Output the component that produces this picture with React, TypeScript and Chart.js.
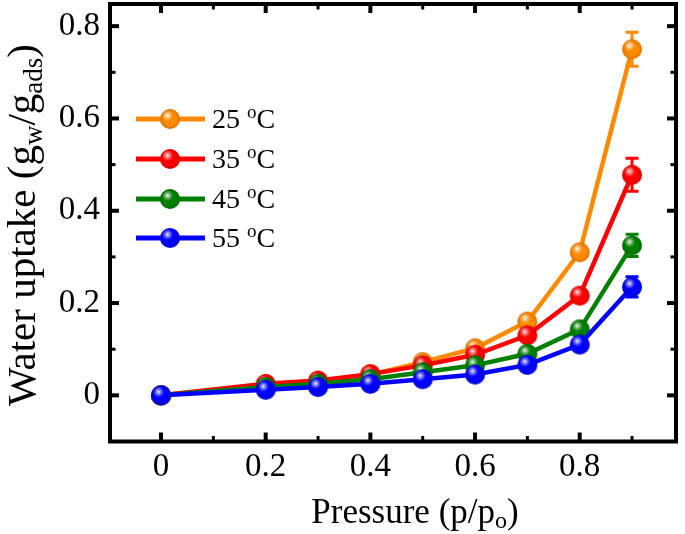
import React, { useEffect, useRef } from "react";
import { Chart, registerables } from "chart.js";

Chart.register(...registerables);

// ---- data ----
const pressure = [0, 0.2, 0.3, 0.4, 0.5, 0.6, 0.7, 0.8, 0.9];
const uptake25 = [0, 0.022, 0.03, 0.045, 0.072, 0.102, 0.16, 0.31, 0.75];
const uptake35 = [0, 0.025, 0.032, 0.046, 0.065, 0.088, 0.13, 0.216, 0.478];
const uptake45 = [0, 0.018, 0.025, 0.035, 0.05, 0.065, 0.09, 0.143, 0.325];
const uptake55 = [0, 0.012, 0.018, 0.025, 0.035, 0.045, 0.066, 0.11, 0.235];
const error25 = [0.002, 0.003, 0.003, 0.004, 0.005, 0.006, 0.008, 0.01, 0.037];
const error35 = [0.002, 0.003, 0.003, 0.004, 0.005, 0.006, 0.008, 0.01, 0.036];
const error45 = [0.002, 0.003, 0.003, 0.004, 0.004, 0.005, 0.006, 0.008, 0.024];
const error55 = [0.002, 0.002, 0.003, 0.003, 0.004, 0.005, 0.006, 0.008, 0.022];
const seriesNames = ["25", "35", "45", "55"];
const seriesColors = ["#FF8A00", "#FF0000", "#008000", "#0000FF"];

const xTickValues = [0, 0.2, 0.4, 0.6, 0.8];
const xTickLabels = ["0", "0.2", "0.4", "0.6", "0.8"];
const xMinorTicks = [0.1, 0.3, 0.5, 0.7, 0.9];
const yTickValues = [0, 0.2, 0.4, 0.6, 0.8];
const yTickLabels = ["0", "0.2", "0.4", "0.6", "0.8"];
const yMinorTicks = [0.1, 0.3, 0.5, 0.7];

const X_MIN = -0.0975;
const X_MAX = 0.984;
const Y_MIN = -0.1;
const Y_MAX = 0.848;

const FONT = "'Liberation Serif', 'Times New Roman', serif";

function makeSphere(color: string, r: number): HTMLCanvasElement {
  const c = document.createElement("canvas");
  const size = Math.ceil(r * 2 + 2);
  c.width = size;
  c.height = size;
  const ctx = c.getContext("2d")!;
  const cx = size / 2;
  const cy = size / 2;
  ctx.beginPath();
  ctx.arc(cx, cy, r, 0, Math.PI * 2);
  ctx.fillStyle = color;
  ctx.fill();
  const g = ctx.createRadialGradient(cx - r * 0.25, cy - r * 0.35, 0, cx - r * 0.25, cy - r * 0.35, r * 0.55);
  g.addColorStop(0, "rgba(255,255,255,0.95)");
  g.addColorStop(0.45, "rgba(255,255,255,0.45)");
  g.addColorStop(1, "rgba(255,255,255,0)");
  ctx.beginPath();
  ctx.arc(cx, cy, r, 0, Math.PI * 2);
  ctx.fillStyle = g;
  ctx.fill();
  const g2 = ctx.createRadialGradient(cx, cy, r * 0.6, cx, cy, r);
  g2.addColorStop(0, "rgba(0,0,0,0)");
  g2.addColorStop(1, "rgba(0,0,0,0.15)");
  ctx.beginPath();
  ctx.arc(cx, cy, r, 0, Math.PI * 2);
  ctx.fillStyle = g2;
  ctx.fill();
  return c;
}

type Seg = { text: string; size: number; dy: number };

function richWidth(ctx: CanvasRenderingContext2D, segs: Seg[]) {
  let w = 0;
  for (const s of segs) {
    ctx.font = `${s.size}px ${FONT}`;
    w += ctx.measureText(s.text).width;
  }
  return w;
}

function drawRich(ctx: CanvasRenderingContext2D, segs: Seg[], x: number, y: number) {
  let cx = x;
  ctx.textAlign = "left";
  ctx.textBaseline = "alphabetic";
  for (const s of segs) {
    ctx.font = `${s.size}px ${FONT}`;
    ctx.fillText(s.text, cx, y + s.dy);
    cx += ctx.measureText(s.text).width;
  }
}

function labelFor(v: number, vals: number[], labels: string[]) {
  const i = vals.findIndex((t) => Math.abs(t - v) < 1e-9);
  return i >= 0 ? labels[i] : "";
}

export default function App() {
  const ref = useRef<HTMLCanvasElement>(null);

  useEffect(() => {
    if (!ref.current) return;
    const values = [uptake25, uptake35, uptake45, uptake55];
    const errors = [error25, error35, error45, error55];
    const spheres = seriesColors.map((c) => makeSphere(c, 10));

    const datasets = values.map((vals, i) => ({
      label: `${seriesNames[i]} °C`,
      data: pressure.map((p, j) => ({ x: p, y: vals[j] })),
      borderColor: seriesColors[i],
      backgroundColor: seriesColors[i],
      borderWidth: 4.5,
      pointStyle: spheres[i] as any,
      pointRadius: 10,
      tension: 0,
      order: 4 - i,
      clip: false,
    }));

    const framePlugin = {
      id: "frame",
      beforeDatasetsDraw(chart: any) {
        const ctx: CanvasRenderingContext2D = chart.ctx;
        const ys = chart.scales.y;
        chart.data.datasets.forEach((ds: any, i: number) => {
          const meta = chart.getDatasetMeta(i);
          ctx.save();
          ctx.strokeStyle = seriesColors[i];
          ctx.lineWidth = 3;
          meta.data.forEach((pt: any, j: number) => {
            const v = values[i][j];
            const e = errors[i][j];
            const x = pt.x;
            const y1 = ys.getPixelForValue(v + e);
            const y2 = ys.getPixelForValue(v - e);
            ctx.beginPath();
            ctx.moveTo(x, y1);
            ctx.lineTo(x, y2);
            ctx.moveTo(x - 6.5, y1);
            ctx.lineTo(x + 6.5, y1);
            ctx.moveTo(x - 6.5, y2);
            ctx.lineTo(x + 6.5, y2);
            ctx.stroke();
          });
          ctx.restore();
        });
      },
      afterDraw(chart: any) {
        const ctx: CanvasRenderingContext2D = chart.ctx;
        const a = chart.chartArea;
        const xs = chart.scales.x;
        const ys = chart.scales.y;
        ctx.save();
        ctx.fillStyle = "#000";
        const tickX = (v: number, len: number, w: number) => {
          const px = xs.getPixelForValue(v);
          ctx.fillRect(px - w / 2, a.bottom - len, w, len);
          ctx.fillRect(px - w / 2, a.top, w, len);
        };
        const tickY = (v: number, len: number, w: number) => {
          const py = ys.getPixelForValue(v);
          ctx.fillRect(a.left, py - w / 2, len, w);
          ctx.fillRect(a.right - len, py - w / 2, len, w);
        };
        xTickValues.forEach((v) => tickX(v, 9, 4));
        xMinorTicks.forEach((v) => tickX(v, 5.5, 3));
        yTickValues.forEach((v) => tickY(v, 9, 4));
        yMinorTicks.forEach((v) => tickY(v, 5.5, 3));
        ctx.strokeStyle = "#000";
        ctx.lineWidth = 4;
        ctx.strokeRect(a.left, a.top, a.right - a.left, a.bottom - a.top);

        const xt: Seg[] = [
          { text: "Pressure (p/p", size: 35, dy: 0 },
          { text: "o", size: 24, dy: 5 },
          { text: ")", size: 35, dy: 0 },
        ];
        const xw = richWidth(ctx, xt);
        drawRich(ctx, xt, 415 - xw / 2, 523);

        const yt: Seg[] = [
          { text: "Water uptake (g", size: 41, dy: 0 },
          { text: "w", size: 27, dy: 7 },
          { text: "/g", size: 41, dy: 0 },
          { text: "ads", size: 27, dy: 7 },
          { text: ")", size: 41, dy: 0 },
        ];
        const yw = richWidth(ctx, yt);
        ctx.save();
        ctx.translate(35, 225);
        ctx.rotate(-Math.PI / 2);
        drawRich(ctx, yt, -yw / 2, 0);
        ctx.restore();

        const rows = [119, 159, 199, 238];
        rows.forEach((ry, i) => {
          ctx.strokeStyle = seriesColors[i];
          ctx.lineWidth = 5;
          ctx.beginPath();
          ctx.moveTo(136, ry);
          ctx.lineTo(205, ry);
          ctx.stroke();
          const s = spheres[i];
          ctx.drawImage(s, 170 - s.width / 2, ry - s.height / 2);
          ctx.fillStyle = "#000";
          drawRich(
            ctx,
            [
              { text: `${seriesNames[i]} `, size: 28, dy: 0 },
              { text: "o", size: 19, dy: -10 },
              { text: "C", size: 28, dy: 0 },
            ],
            212,
            ry + 9
          );
        });
        ctx.restore();
      },
    };

    const chart = new Chart(ref.current, {
      type: "line",
      data: { datasets: datasets as any },
      options: {
        responsive: false,
        animation: false,
        events: [],
        layout: { autoPadding: false, padding: { top: 4, right: 9, left: 0, bottom: 0 } },
        plugins: { legend: { display: false }, tooltip: { enabled: false } },
        scales: {
          x: {
            type: "linear",
            min: X_MIN,
            max: X_MAX,
            grid: { display: false, drawTicks: false },
            border: { display: false },
            afterBuildTicks: (s: any) => {
              s.ticks = xTickValues.map((v) => ({ value: v }));
            },
            afterFit: (s: any) => {
              s.height = 92.5;
              s.paddingLeft = 0;
              s.paddingRight = 0;
              s.paddingTop = 0;
              s.paddingBottom = 0;
            },
            ticks: {
              callback: (v: any) => labelFor(Number(v), xTickValues, xTickLabels),
              font: { family: FONT, size: 33 },
              color: "#000",
              padding: 6,
              maxRotation: 0,
              autoSkip: false,
            },
          },
          y: {
            type: "linear",
            min: Y_MIN,
            max: Y_MAX,
            grid: { display: false, drawTicks: false },
            border: { display: false },
            afterBuildTicks: (s: any) => {
              s.ticks = yTickValues.map((v) => ({ value: v }));
            },
            afterFit: (s: any) => {
              s.width = 110;
              s.paddingLeft = 0;
              s.paddingRight = 0;
              s.paddingTop = 0;
              s.paddingBottom = 0;
            },
            ticks: {
              callback: (v: any) => labelFor(Number(v), yTickValues, yTickLabels),
              font: { family: FONT, size: 33 },
              color: "#000",
              padding: 10,
              autoSkip: false,
            },
          },
        },
      },
      plugins: [framePlugin],
    });
    return () => chart.destroy();
  }, []);

  return (
    <div style={{ position: "absolute", left: 0, top: 0, width: 685, height: 534, background: "#fff" }}>
      <canvas ref={ref} width={685} height={534} />
    </div>
  );
}
